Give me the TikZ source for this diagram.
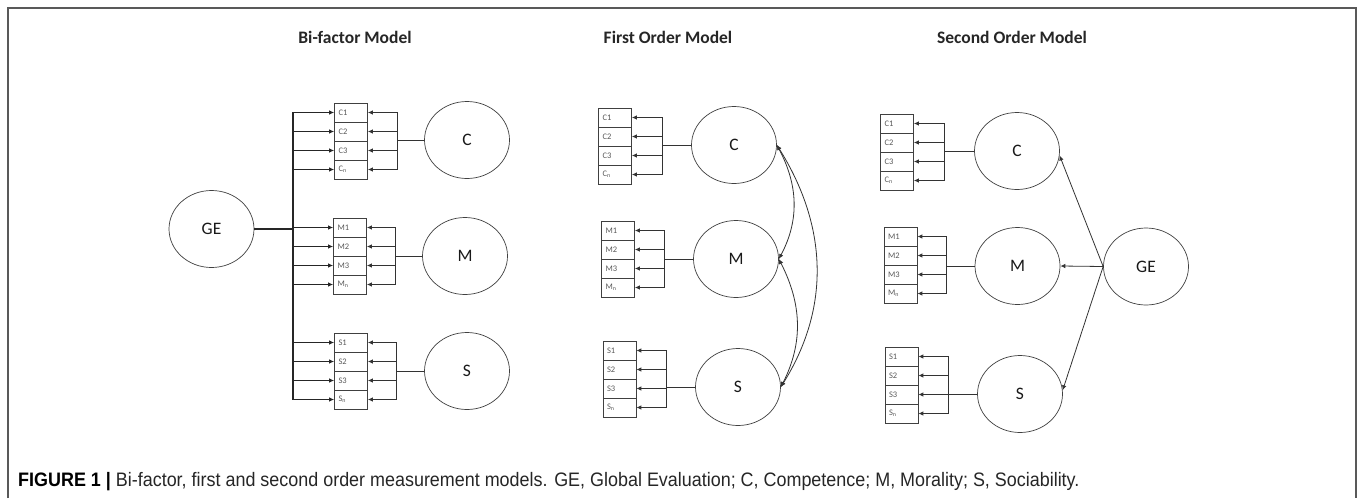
\documentclass[tikz,border=0pt]{standalone}
\usepackage{fontspec}
\setmainfont{Carlito}
\newfontfamily\capfont[FakeStretch=0.92]{Liberation Sans}
\usetikzlibrary{shapes.geometric,arrows.meta}
\newcommand\obsgroup[5]{%
  \foreach \i/\t in {1/1,2/2,3/3,4/{\textsubscript{n}}}{%
    \node[obs] (#1\i) at (#3, {-(#4+9.5+19*(\i-1))}) {#2\t};
  }%
  \coordinate (#1br) at (#5.west -| #1xx);
}
\begin{document}
\begin{tikzpicture}[x=1pt,y=1pt,
  lat/.style={draw=black!75, line width=0.7pt, ellipse, minimum width=85pt, minimum height=77pt, inner sep=0pt, font=\fontsize{17.5}{20}\selectfont, text=black!90},
  obs/.style={draw=black!75, line width=0.7pt, rectangle, minimum width=33pt, minimum height=19pt, inner sep=0pt, text width=25pt, align=left, font=\fontsize{8.5}{10}\selectfont, text=black!65},
  title/.style={font=\bfseries\fontsize{17.5}{20}\selectfont, text=black!85},
  conn/.style={draw=black!80, line width=0.8pt},
  arr/.style={conn, -{Latex[length=5pt,width=4.5pt]}},
  garr/.style={draw=black!85, line width=1.3pt, -{Latex[length=5pt,width=4.5pt]}},
  darr/.style={conn, {Latex[length=5pt,width=4.5pt]}-{Latex[length=5pt,width=4.5pt]}},
]
\useasboundingbox (0,0) rectangle (1357,-498);
\fill[white] (0,0) rectangle (1357,-498);
\draw[black!65, line width=1.5pt] (8,-498) -- (8,-8) -- (1356,-8) -- (1356,-498);

% titles
\node[title] (t1) at (355,-37) {Bi-factor Model};
\node[title] (t2) at (668,-37) {First Order Model};
\node[title] (t3) at (1012,-37) {Second Order Model};

% ---------- Bi-factor ----------
\node[lat] (bGE) at (211.5,-229) {GE};
\node[lat] (bCl) at (467,-140) {C};
\node[lat] (bMl) at (465,-256) {M};
\node[lat] (bSl) at (467,-371) {S};
\coordinate (bCxx) at (397,0);
\coordinate (bMxx) at (395,0);
\coordinate (bSxx) at (396,0);
\obsgroup{bC}{C}{351}{103}{bCl}
\obsgroup{bM}{M}{350}{218}{bMl}
\obsgroup{bS}{S}{351}{333}{bSl}
\coordinate (bus) at (293,-229);
\draw[draw=black!85, line width=1.3pt] (bGE.east) -- (bus);
\foreach \g in {bC,bM,bS}{
  \draw[conn] (\g br) -- (\g br -| \g l.west);
  \foreach \i in {1,...,4}{
    \draw[garr] (bus) |- (\g\i.west);
    \draw[arr] (\g br) |- (\g\i.east);
  }
}

% ---------- First order ----------
\node[lat] (fCl) at (734,-145) {C};
\node[lat] (fMl) at (736,-259) {M};
\node[lat] (fSl) at (738,-387) {S};
\coordinate (fCxx) at (662,0);
\coordinate (fMxx) at (664,0);
\coordinate (fSxx) at (666,0);
\obsgroup{fC}{C}{615}{108}{fCl}
\obsgroup{fM}{M}{618}{221}{fMl}
\obsgroup{fS}{S}{619.5}{341}{fSl}
\foreach \g in {fC,fM,fS}{
  \draw[conn] (\g br) -- (\g br -| \g l.west);
  \foreach \i in {1,...,4}{
    \draw[arr] (\g br) |- (\g\i.east);
  }
}
\draw[darr] (fCl.east) to[out=-62,in=62] (fMl.east);
\draw[darr] (fMl.east) to[out=-63,in=63] (fSl.east);
\draw[darr] (fCl.east) to[out=-58,in=58] (fSl.east);

% ---------- Second order ----------
\node[lat] (sCl) at (1017,-151) {C};
\node[lat] (sMl) at (1017.5,-266) {M};
\node[lat] (sSl) at (1020,-394) {S};
\node[lat] (sGE) at (1146,-266.5) {GE};
\coordinate (sCxx) at (944,0);
\coordinate (sMxx) at (946,0);
\coordinate (sSxx) at (948,0);
\obsgroup{sC}{C}{897}{114}{sCl}
\obsgroup{sM}{M}{900.5}{227}{sMl}
\obsgroup{sS}{S}{901.5}{347}{sSl}
\foreach \g in {sC,sM,sS}{
  \draw[conn] (\g br) -- (\g br -| \g l.west);
  \foreach \i in {1,...,4}{
    \draw[arr] (\g br) |- (\g\i.east);
  }
}
\draw[arr] (sGE.west) -- (sCl.-6);
\draw[arr] (sGE.west) -- (sMl.east);
\draw[arr] (sGE.west) -- (sSl.5);

% caption
\node[anchor=base west, inner sep=0pt, font=\capfont\fontsize{19.5}{22}\selectfont, text=black!85] (cap) at (18,-486)
  {{\bfseries\color{black}FIGURE 1 |} Bi-factor, first and second order measurement models. GE, Global Evaluation; C, Competence; M, Morality; S, Sociability.};
\end{tikzpicture}
\end{document}
